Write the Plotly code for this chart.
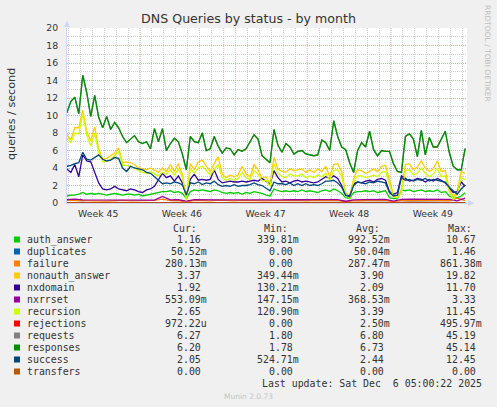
import plotly.graph_objects as go
import pandas as pd

# munin "dns queries by status - by month"
# main series are 8-hourly, the near-zero ones 16-hourly
t = pd.date_range("2025-11-02 21:00", periods=101, freq="8h")
t_low = pd.date_range("2025-11-02 21:00", periods=51, freq="16h")

auth_answer = [0.8, 0.9, 0.9, 1.0, 1.2, 1.0, 1.1, 1.0, 1.1, 1.0,
               0.9, 1.0, 1.1, 1.0, 0.9, 1.0, 1.0, 0.9, 1.0, 0.8,
               0.9, 1.0, 1.1, 1.2, 1.3, 1.3, 1.4, 1.2, 1.3, 1.1,
               0.5, 1.3, 1.5, 1.4, 1.5, 1.4, 1.3, 1.5, 1.4, 1.2,
               1.1, 1.2, 1.1, 1.2, 1.0, 1.2, 1.1, 1.3, 1.2, 1.1,
               0.9, 0.8, 1.6, 1.4, 1.3, 1.4, 1.3, 1.4, 1.3, 1.5,
               1.3, 1.4, 1.3, 1.2, 1.4, 1.5, 1.3, 1.6, 1.4, 1.1,
               0.6, 0.5, 1.2, 1.3, 1.3, 1.4, 1.3, 1.4, 1.2, 1.3,
               1.4, 0.6, 0.5, 0.5, 1.5, 1.4, 1.5, 1.3, 1.4, 1.5,
               1.3, 1.4, 1.3, 1.5, 1.2, 1.3, 0.8, 0.6, 0.6, 0.8,
               1.16]

nonauth_answer = [7.8, 7.2, 8.6, 8.6, 10.6, 8.2, 7.1, 8.7, 6.2, 5.0,
                  5.1, 5.4, 5.7, 6.3, 4.6, 4.7, 4.6, 4.4, 4.0, 3.9,
                  3.8, 4.0, 3.7, 3.5, 4.0, 3.6, 4.4, 3.6, 4.5, 3.3,
                  0.4, 4.5, 3.8, 4.7, 4.9, 4.2, 3.6, 4.5, 5.3, 3.3,
                  2.9, 3.2, 3.0, 3.2, 4.2, 3.3, 3.0, 4.4, 3.8, 2.8,
                  3.0, 2.2, 5.2, 3.9, 3.6, 3.5, 3.9, 3.7, 3.8, 3.9,
                  3.5, 3.8, 3.5, 3.9, 3.6, 4.2, 3.0, 4.4, 4.5, 3.6,
                  1.2, 0.7, 2.8, 3.8, 3.7, 3.4, 3.6, 3.9, 3.6, 4.2,
                  4.3, 2.5, 0.9, 0.8, 1.5, 4.4, 4.5, 3.8, 4.1, 4.8,
                  4.0, 3.6, 3.9, 4.8, 3.6, 3.7, 1.6, 0.7, 1.3, 3.6,
                  3.37]

nxdomain = [3.9, 3.5, 4.4, 3.0, 5.5, 4.8, 4.7, 3.6, 2.3, 1.6,
            1.5, 1.6, 1.9, 1.6, 1.5, 1.4, 1.6, 1.5, 1.3, 1.2,
            1.5, 1.6, 1.9, 2.6, 3.4, 2.9, 3.1, 2.5, 3.1, 2.3,
            0.8, 2.7, 3.3, 2.6, 2.7, 2.6, 2.7, 3.8, 2.7, 2.3,
            2.4, 2.5, 2.4, 2.4, 2.5, 2.4, 2.5, 2.6, 2.5, 2.8,
            2.5, 2.1, 3.7, 2.9, 2.4, 2.5, 2.3, 2.5, 2.6, 2.4,
            2.5, 2.4, 2.3, 2.4, 2.7, 3.0, 2.8, 3.1, 2.8, 2.0,
            0.9, 0.8, 2.2, 2.4, 2.3, 2.5, 2.6, 2.4, 2.7, 2.8,
            2.6, 1.3, 1.0, 1.2, 3.1, 2.8, 2.5, 2.6, 2.8, 2.7,
            2.4, 2.7, 2.5, 2.8, 2.6, 2.3, 1.8, 1.2, 1.3, 2.4,
            1.92]

recursion = [7.4, 6.9, 8.0, 7.9, 10.2, 7.8, 6.5, 8.0, 5.8, 4.7,
             4.8, 5.0, 5.4, 5.9, 4.3, 4.3, 4.2, 4.0, 3.7, 3.5,
             3.4, 3.6, 3.3, 3.1, 3.5, 3.3, 3.8, 3.2, 3.9, 3.0,
             0.3, 3.9, 3.4, 4.0, 4.2, 3.7, 3.2, 3.8, 4.4, 2.9,
             2.6, 2.8, 2.6, 2.8, 3.5, 2.9, 2.7, 3.7, 3.3, 2.5,
             2.6, 1.9, 4.5, 3.4, 3.0, 2.9, 3.3, 3.1, 3.1, 3.3,
             2.9, 3.1, 2.9, 3.2, 3.0, 3.4, 2.6, 3.7, 3.8, 3.0,
             1.0, 0.5, 2.4, 3.1, 3.1, 2.9, 3.0, 3.2, 3.0, 3.5,
             3.6, 2.1, 0.7, 0.6, 1.2, 3.7, 3.8, 3.2, 3.4, 4.0,
             3.4, 3.0, 3.3, 4.0, 3.0, 3.1, 1.3, 0.4, 1.0, 2.9,
             2.65]

requests = [10.3, 11.6, 12.1, 10.2, 14.6, 12.6, 9.9, 12.3, 9.8, 8.6,
            9.9, 8.4, 9.2, 8.6, 7.6, 6.9, 7.3, 7.7, 7.0, 6.8,
            7.0, 6.2, 8.5, 7.0, 8.5, 6.0, 6.8, 7.4, 7.0, 5.6,
            3.8, 7.6, 7.0, 6.9, 8.0, 6.0, 6.2, 7.6, 6.5, 5.7,
            6.3, 6.2, 5.5, 6.1, 5.9, 6.2, 7.0, 7.8, 7.3, 5.4,
            5.0, 4.6, 8.4, 6.6, 5.8, 6.8, 6.4, 5.6, 5.9, 6.0,
            5.6, 5.5, 5.4, 5.5, 7.2, 6.9, 6.0, 9.4, 7.6, 6.4,
            6.1, 4.6, 3.5, 6.0, 6.9, 6.4, 8.2, 6.1, 5.4, 6.0,
            5.9, 5.9, 4.5, 3.6, 3.5, 7.6, 7.9, 7.3, 5.3, 8.3,
            5.5, 7.5, 6.4, 6.4, 7.3, 8.2, 5.8, 4.2, 3.8, 3.8,
            6.27]

responses = [10.3, 11.6, 12.1, 10.2, 14.6, 12.6, 9.9, 12.3, 9.8, 8.6,
             9.9, 8.4, 9.2, 8.6, 7.6, 6.9, 7.3, 7.7, 7.0, 6.8,
             7.0, 6.2, 8.5, 7.0, 8.5, 6.0, 6.8, 7.4, 7.0, 5.6,
             3.8, 7.6, 7.0, 6.9, 8.0, 6.0, 6.2, 7.6, 6.5, 5.7,
             6.3, 6.2, 5.5, 6.1, 5.9, 6.2, 7.0, 7.8, 7.3, 5.4,
             5.0, 4.6, 8.4, 6.6, 5.8, 6.8, 6.4, 5.6, 5.9, 6.0,
             5.6, 5.5, 5.4, 5.5, 7.2, 6.9, 6.0, 9.4, 7.6, 6.4,
             6.1, 4.6, 3.5, 6.0, 6.9, 6.4, 8.2, 6.1, 5.4, 6.0,
             5.9, 5.9, 4.5, 3.6, 3.5, 7.6, 7.9, 7.3, 5.3, 8.3,
             5.5, 7.5, 6.4, 6.4, 7.3, 8.2, 5.8, 4.2, 3.8, 3.8,
             6.2]

success = [4.2, 4.3, 4.5, 4.6, 5.8, 5.0, 4.9, 5.2, 5.5, 5.0,
           4.8, 4.9, 5.2, 5.1, 4.0, 3.6, 4.2, 4.0, 3.9, 3.8,
           3.5, 3.4, 3.0, 2.6, 2.2, 2.3, 2.2, 2.4, 2.3, 2.1,
           0.9, 2.3, 2.2, 2.4, 2.1, 2.3, 2.2, 2.5, 2.1, 1.9,
           2.0, 1.9, 2.1, 1.9, 2.0, 2.0, 2.1, 2.3, 2.1, 2.0,
           1.7, 1.4, 2.4, 2.2, 2.2, 2.1, 2.3, 2.0, 2.2, 2.0,
           2.2, 2.0, 2.1, 2.0, 2.2, 2.5, 2.5, 2.6, 2.3, 1.8,
           0.9, 0.7, 2.0, 2.4, 2.3, 2.2, 2.4, 2.3, 2.5, 2.4,
           2.3, 1.2, 0.8, 0.9, 2.9, 2.6, 2.7, 2.5, 2.7, 2.6,
           2.8, 2.5, 2.7, 2.6, 2.5, 2.4, 1.8, 1.4, 1.0, 1.6,
           2.05]

# near-zero series (16h steps)
duplicates = [0.0, 0.06, 0.07, 0.0, 0.0, 0.06, 0.0, 0.07, 0.0, 0.0,
              0.06, 0.0, 0.05, 0.0, 0.07, 0.0, 0.0, 0.06, 0.0, 0.0,
              0.07, 0.0, 0.06, 0.0, 0.0, 0.05, 0.0, 0.07, 0.0, 0.06,
              0.0, 0.0, 0.07, 0.0, 0.06, 0.0, 0.0, 0.06, 0.0, 0.07,
              0.0, 0.0, 0.08, 0.09, 0.08, 0.08, 0.09, 0.08, 0.09, 0.06,
              0.05]

failure = [0.30, 0.28, 0.25, 0.30, 0.27, 0.22, 0.26, 0.30, 0.24, 0.28,
           0.26, 0.30, 0.45, 0.28, 0.26, 0.08, 0.30, 0.28, 0.25, 0.32,
           0.27, 0.24, 0.29, 0.26, 0.30, 0.25, 0.28, 0.31, 0.26, 0.29,
           0.24, 0.30, 0.27, 0.25, 0.30, 0.10, 0.28, 0.26, 0.31, 0.27,
           0.29, 0.12, 0.30, 0.26, 0.29, 0.27, 0.31, 0.28, 0.26, 0.55,
           0.28]

nxrrset = [0.38, 0.45, 0.36, 0.35, 0.37, 0.34, 0.33, 0.35, 0.34, 0.33,
           0.32, 0.34, 0.75, 0.36, 0.37, 0.22, 0.38, 0.40, 0.37, 0.36,
           0.35, 0.34, 0.36, 0.35, 0.36, 0.38, 0.37, 0.36, 0.38, 0.35,
           0.37, 0.39, 0.36, 0.37, 0.38, 0.20, 0.36, 0.38, 0.40, 0.39,
           0.41, 0.22, 0.42, 0.44, 0.43, 0.42, 0.45, 0.43, 0.41, 0.25,
           0.55]

rejections = [0.0, 0.0, 0.0, 0.01, 0.0, 0.0, 0.0, 0.0, 0.0, 0.0,
              0.0, 0.0, 0.02, 0.0, 0.0, 0.0, 0.0, 0.0, 0.0, 0.0,
              0.0, 0.0, 0.0, 0.0, 0.01, 0.0, 0.0, 0.0, 0.0, 0.0,
              0.0, 0.0, 0.0, 0.0, 0.0, 0.0, 0.0, 0.0, 0.01, 0.0,
              0.0, 0.0, 0.0, 0.0, 0.0, 0.0, 0.0, 0.0, 0.0, 0.0,
              0.0]

transfers = [0.0, 0.0, 0.0, 0.0, 0.0, 0.0, 0.0, 0.0, 0.0, 0.0,
             0.0, 0.0, 0.0, 0.0, 0.0, 0.0, 0.0, 0.0, 0.0, 0.0,
             0.0, 0.0, 0.0, 0.0, 0.0, 0.0, 0.0, 0.0, 0.0, 0.0,
             0.0, 0.0, 0.0, 0.0, 0.0, 0.0, 0.0, 0.0, 0.0, 0.0,
             0.0, 0.0, 0.0, 0.0, 0.0, 0.0, 0.0, 0.0, 0.0, 0.0,
             0.0]

# legend table (as printed by rrdtool)
names = ["auth_answer", "duplicates", "failure", "nonauth_answer", "nxdomain", "nxrrset",
         "recursion", "rejections", "requests", "responses", "success", "transfers"]
colors = ["#00CC00", "#0066B3", "#FF8000", "#FFCC00", "#330099", "#990099",
          "#CCFF00", "#FF0000", "#808080", "#008F00", "#00487D", "#B35A00"]
cur = ["1.16", "50.52m", "280.13m", "3.37", "1.92", "553.09m",
       "2.65", "972.22u", "6.27", "6.20", "2.05", "0.00"]
mins = ["339.81m", "0.00", "0.00", "349.44m", "130.21m", "147.15m",
        "120.90m", "0.00", "1.80", "1.78", "524.71m", "0.00"]
avgs = ["992.52m", "50.04m", "287.47m", "3.90", "2.09", "368.53m",
        "3.39", "2.50m", "6.80", "6.73", "2.44", "0.00"]
maxs = ["10.67", "1.46", "861.38m", "19.82", "11.70", "3.33",
        "11.45", "495.97m", "45.19", "45.14", "12.45", "0.00"]

week_labels = ["Week 45", "Week 46", "Week 47", "Week 48", "Week 49"]
week_mid = ["2025-11-05 12:00", "2025-11-12 12:00", "2025-11-19 12:00",
            "2025-11-26 12:00", "2025-12-03 12:00"]
week_start = ["2025-11-09", "2025-11-16", "2025-11-23", "2025-11-30"]

series = {
    "auth_answer": (t, auth_answer), "duplicates": (t_low, duplicates),
    "failure": (t_low, failure), "nonauth_answer": (t, nonauth_answer),
    "nxdomain": (t, nxdomain), "nxrrset": (t_low, nxrrset),
    "recursion": (t, recursion), "rejections": (t_low, rejections),
    "requests": (t, requests), "responses": (t, responses),
    "success": (t, success), "transfers": (t_low, transfers),
}

W, H = 497, 407
L, R, T, B = 67, 30, 28, 204
PW, PH = W - L - R, H - T - B
BASE = H - B

MGRID = "#F2A3A3"
GRID = "#CFCFCF"
AXIS = "#CFD6F8"
TXT = "#333333"


def px(x):
    return (x - L) / PW


def py(y):
    return (BASE - y) / PH


fig = go.Figure()
for name, col in zip(names, colors):
    xs, ys = series[name]
    fig.add_trace(go.Scatter(x=xs, y=ys, mode="lines", name=name,
                             line=dict(color=col, width=1.3), hoverinfo="skip"))

fig.update_layout(
    width=W, height=H,
    margin=dict(l=L, r=R, t=T, b=B, pad=0),
    paper_bgcolor="#F0F0F0", plot_bgcolor="#FFFFFF",
    showlegend=False,
    font=dict(family="DejaVu Sans", size=9.3, color=TXT),
    title=dict(text="DNS Queries by status - by month", x=0.5, xref="container",
               xanchor="center", y=1 - 19 / H, yref="container", yanchor="middle",
               font=dict(size=12.6, color=TXT)),
)

fig.update_xaxes(
    type="date", range=["2025-11-02 21:20", "2025-12-06 08:41"],
    tickvals=week_mid, ticktext=week_labels, ticks="",
    tickfont=dict(size=9.3, color=TXT), ticklabelstandoff=2,
    showgrid=False, zeroline=False,
    showline=True, linecolor=AXIS, linewidth=1, layer="below traces",
    minor=dict(dtick=86400000, tick0="2025-11-02", showgrid=True,
               gridcolor=GRID, griddash="1px,1px", gridwidth=1),
)
fig.update_yaxes(
    range=[0, 20], tick0=0, dtick=2, ticks="",
    tickfont=dict(size=9.3, color=TXT), ticklabelstandoff=6,
    showgrid=True, gridcolor=MGRID, griddash="1px,1px", gridwidth=1,
    zeroline=False, showline=True, linecolor=AXIS, linewidth=1, layer="below traces",
    minor=dict(dtick=1, showgrid=True, gridcolor=GRID, griddash="1px,1px", gridwidth=1),
)

# week boundaries get the major (red) grid
for ws in week_start:
    fig.add_shape(type="line", x0=ws, x1=ws, xref="x", y0=0, y1=1, yref="paper",
                  line=dict(color=MGRID, width=1, dash="1px,1px"), layer="below")

# axis arrows
fig.add_shape(type="path", xref="paper", yref="paper", layer="above",
              path=f"M {px(64)} {py(27)} L {px(67)} {py(20.5)} L {px(70)} {py(27)} Z",
              fillcolor=AXIS, line=dict(width=0))
fig.add_shape(type="path", xref="paper", yref="paper", layer="above",
              path=f"M {px(468)} {py(200)} L {px(474.5)} {py(203)} L {px(468)} {py(206)} Z",
              fillcolor=AXIS, line=dict(width=0))

ann = []
ann.append(dict(text="queries / second", x=px(11), y=py(114), textangle=-90,
                font=dict(size=11.2, color=TXT)))
ann.append(dict(text="RRDTOOL / TOBI OETIKER", x=px(487.5), y=py(53.5), textangle=90,
                font=dict(size=7.5, color="#BDBDBD")))
ann.append(dict(text="Munin 2.0.73", x=px(248), y=py(396),
                font=dict(size=7.5, color="#C4C4C4")))

MONO = dict(family="DejaVu Sans Mono", size=9.9, color=TXT)
CH = 5.95
for hdr, hx in zip(["Cur:", "Min:", "Avg:", "Max:"], [172.3, 263.3, 355.0, 446.7]):
    ann.append(dict(text=hdr, x=px(hx - 1), y=py(228.3), xanchor="left", font=MONO))

col_right = [208.3, 300.0, 391.0, 482.7]
for k, name in enumerate(names):
    yc = 239.5 + 12 * k
    fig.add_shape(type="rect", xref="paper", yref="paper",
                  x0=px(14), x1=px(20), y0=py(yc - 3), y1=py(yc + 3),
                  fillcolor=colors[k], line=dict(width=0))
    ann.append(dict(text=name, x=px(25.3), y=py(yc), xanchor="left", font=MONO))
    for vals, xr in zip([cur, mins, avgs, maxs], col_right):
        v = vals[k]
        edge = xr if v[-1].isalpha() else xr - CH
        ann.append(dict(text=v, x=px(edge + 1), y=py(yc), xanchor="right", font=MONO))

ann.append(dict(text="Last update: Sat Dec\u00a0 6 05:00:22 2025", x=px(483.7), y=py(383.5),
                xanchor="right", font=MONO))

for a in ann:
    a.setdefault("xref", "paper")
    a.setdefault("yref", "paper")
    a.setdefault("showarrow", False)
    a.setdefault("yanchor", "middle")
    a.setdefault("xanchor", "center")
fig.update_layout(annotations=ann)

# the page's default 8px body margin would shift the whole image
fig.write_html("out.html", config={"displayModeBar": False},
               post_script="document.body.style.margin='0';"
                           "document.body.style.background='#F0F0F0';")
